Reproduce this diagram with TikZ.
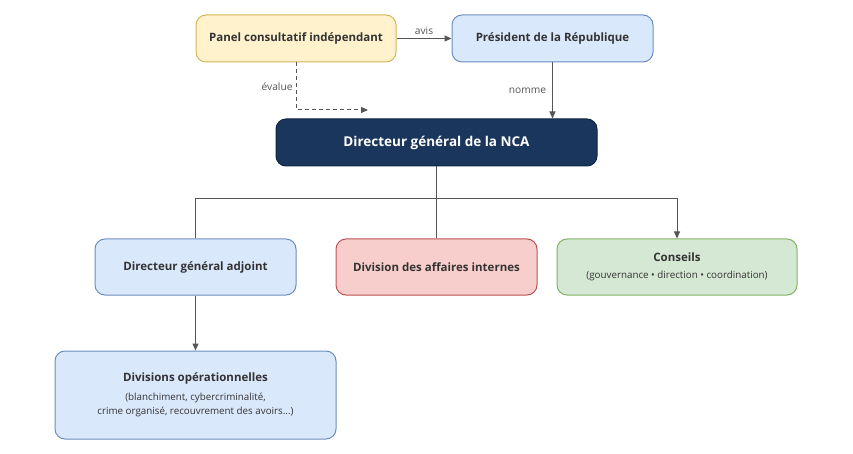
\documentclass[tikz,border=0pt]{standalone}
\usepackage{fontspec}
\setmainfont{Open Sans}
\usetikzlibrary{arrows.meta}
\definecolor{ylwF}{HTML}{FFF2CC}\definecolor{ylwD}{HTML}{D6B656}
\definecolor{bluF}{HTML}{DAE8FC}\definecolor{bluD}{HTML}{6C8EBF}
\definecolor{redF}{HTML}{F8CECC}\definecolor{redD}{HTML}{B85450}
\definecolor{grnF}{HTML}{D5E8D4}\definecolor{grnD}{HTML}{82B366}
\definecolor{navy}{HTML}{1B365D}\definecolor{navyD}{HTML}{0F2440}
\definecolor{lineC}{HTML}{555555}\definecolor{txt}{HTML}{333333}
\newcommand\subtxt{\fontsize{9.8}{15}\selectfont\mdseries}
\tikzset{
  box/.style={rectangle, rounded corners=10pt, line width=1pt, align=center, inner sep=0pt, text=txt, font=\fontsize{11.5}{14}\selectfont\bfseries},
  conn/.style={draw=lineC, line width=1pt},
  arr/.style={conn, -{Triangle[length=7pt,width=6pt]}},
  lbl/.style={font=\fontsize{10.2}{12}\selectfont, text=lineC, inner sep=1pt}
}
\begin{document}
\begin{tikzpicture}[x=1pt,y=-1pt]
\useasboundingbox (0,0) rectangle (853,454);
\node[box, fill=ylwF, draw=ylwD, minimum width=200pt, minimum height=47pt] (panel) at (296,38.5) {Panel consultatif indépendant};
\node[box, fill=bluF, draw=bluD, minimum width=201pt, minimum height=47pt] (pres) at (552.5,38.5) {Président de la République};
\node[box, fill=navy, draw=navyD, text=white, minimum width=321pt, minimum height=47pt, font=\fontsize{13.5}{16}\selectfont\bfseries] (nca) at (436.5,142.5) {Directeur général de la NCA};
\node[box, fill=bluF, draw=bluD, minimum width=201pt, minimum height=56pt] (dga) at (195.5,267) {Directeur général adjoint};
\node[box, fill=redF, draw=redD, minimum width=201pt, minimum height=56pt] (dai) at (436.5,267) {Division des affaires internes};
\node[box, fill=grnF, draw=grnD, minimum width=240pt, minimum height=56pt] (cons) at (677,267) {Conseils\\[3pt]{\subtxt (gouvernance • direction • coordination)}};
\node[box, fill=bluF, draw=bluD, minimum width=281pt, minimum height=88pt] (divop) at (195.5,395) {Divisions opérationnelles\\[5pt]{\subtxt (blanchiment, cybercriminalité,}\\{\subtxt crime organisé, recouvrement des avoirs...)}};
\coordinate (evend) at (368,110);
\coordinate (bar) at (436.5,199);
\draw[arr] (panel.east) -- (pres.west) node[lbl, midway, above=2pt] {avis};
\draw[arr] (pres.south) -- (nca.north -| pres.south) node[lbl, midway, left=5pt] {nomme};
\draw[conn, dashed, dash pattern=on 4pt off 3pt, -{Triangle[length=7pt,width=6pt]}] (panel.south) |- node[lbl, pos=0.25, left=2pt] {évalue} (evend);
\draw[conn] (nca.south) -- (dai.north);
\draw[conn] (dga.north) |- (bar);
\draw[arr] (bar) -| (cons.north);
\draw[arr] (dga.south) -- (divop.north);
\end{tikzpicture}
\end{document}
